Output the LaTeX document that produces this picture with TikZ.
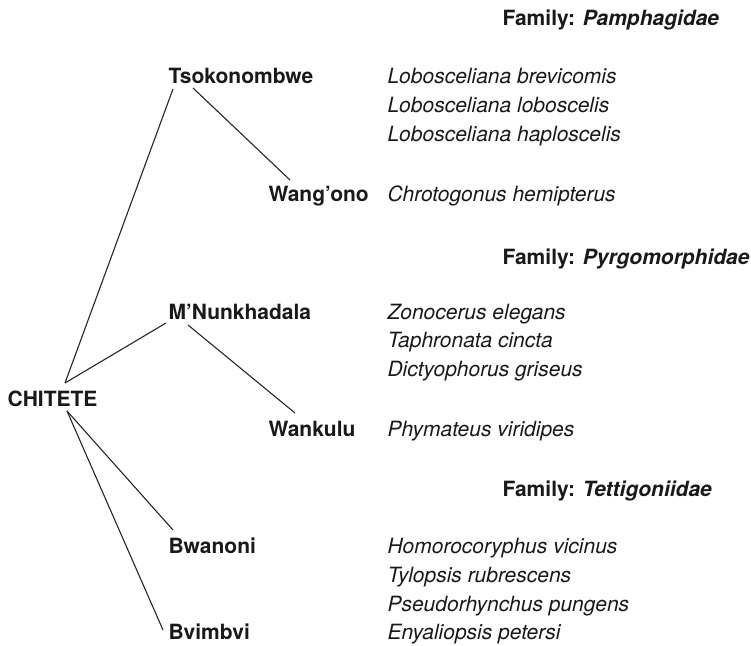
\documentclass[tikz,border=0pt]{standalone}
\usepackage{fontspec}
\setmainfont{TeX Gyre Heros}
\usepackage{tikz}
\usetikzlibrary{positioning}

\begin{document}
\begin{tikzpicture}
  [x=0.5pt,y=-0.5pt,
   every node/.style={anchor=base west,inner sep=0pt,font=\fontsize{10.5}{12}\selectfont,text=black!90},
   chname/.style={font=\fontsize{10.5}{12}\selectfont\bfseries},
   sp/.style={font=\fontsize{10.5}{12}\selectfont\itshape},
   famhead/.style={font=\fontsize{10.5}{12}\selectfont\bfseries},
   every path/.style={line width=0.55pt,black!85}]
  \useasboundingbox (0,0) rectangle (751,646);
  % family headings
  \node[famhead] (fam1) at (502,26)  {Family: \textit{Pamphagidae}};
  \node[famhead] (fam2) at (502,265) {Family: \textit{Pyrgomorphidae}};
  \node[famhead] (fam3) at (502,497) {Family: \textit{Tettigoniidae}};
  % local names
  \node[chname] (chitete) at (7,407)   {CHITETE};
  \node[chname] (tsoko)   at (168,84)  {Tsokonombwe};
  \node[chname] (wangono) at (268,202) {Wang’ono};
  \node[chname] (nunkha)  at (168,320) {M’Nunkhadala};
  \node[chname] (wankulu) at (268,437) {Wankulu};
  \node[chname] (bwanoni) at (168,554) {Bwanoni};
  \node[chname] (bvimbvi) at (168,640) {Bvimbvi};
  % species
  \node[sp] (s1)  at (387,84)  {Lobosceliana brevicomis};
  \node[sp] (s2)  at (387,113) {Lobosceliana loboscelis};
  \node[sp] (s3)  at (387,142) {Lobosceliana haploscelis};
  \node[sp] (s4)  at (387,202) {Chrotogonus hemipterus};
  \node[sp] (s5)  at (387,320) {Zonocerus elegans};
  \node[sp] (s6)  at (387,348) {Taphronata cincta};
  \node[sp] (s7)  at (387,377) {Dictyophorus griseus};
  \node[sp] (s8)  at (387,437) {Phymateus viridipes};
  \node[sp] (s9)  at (387,554) {Homorocoryphus vicinus};
  \node[sp] (s10) at (387,583) {Tylopsis rubrescens};
  \node[sp] (s11) at (387,612) {Pseudorhynchus pungens};
  \node[sp] (s12) at (387,640) {Enyaliopsis petersi};
  % line ends
  \coordinate (ctop) at ([shift={(58,-24)}]chitete.base west);
  \coordinate (cbot) at ([shift={(60,4)}]chitete.base west);
  \coordinate (tsokoin)  at ([shift={(5,5)}]tsoko.base west);
  \coordinate (tsokoout) at ([shift={(25,4)}]tsoko.base west);
  \coordinate (wangin)   at ([shift={(22,-22)}]wangono.base west);
  \coordinate (nunkin)   at ([shift={(-2,3)}]nunkha.base west);
  \coordinate (nunkout)  at ([shift={(20,5)}]nunkha.base west);
  \coordinate (wankin)   at ([shift={(27,-24)}]wankulu.base west);
  \coordinate (bwanin)   at ([shift={(5,-24)}]bwanoni.base west);
  \coordinate (bvimin)   at ([shift={(-5,-10)}]bvimbvi.base west);
  \foreach \from/\to in {ctop/tsokoin,ctop/nunkin,tsokoout/wangin,nunkout/wankin,cbot/bwanin,cbot/bvimin}
    \draw (\from) -- (\to);
\end{tikzpicture}
\end{document}
